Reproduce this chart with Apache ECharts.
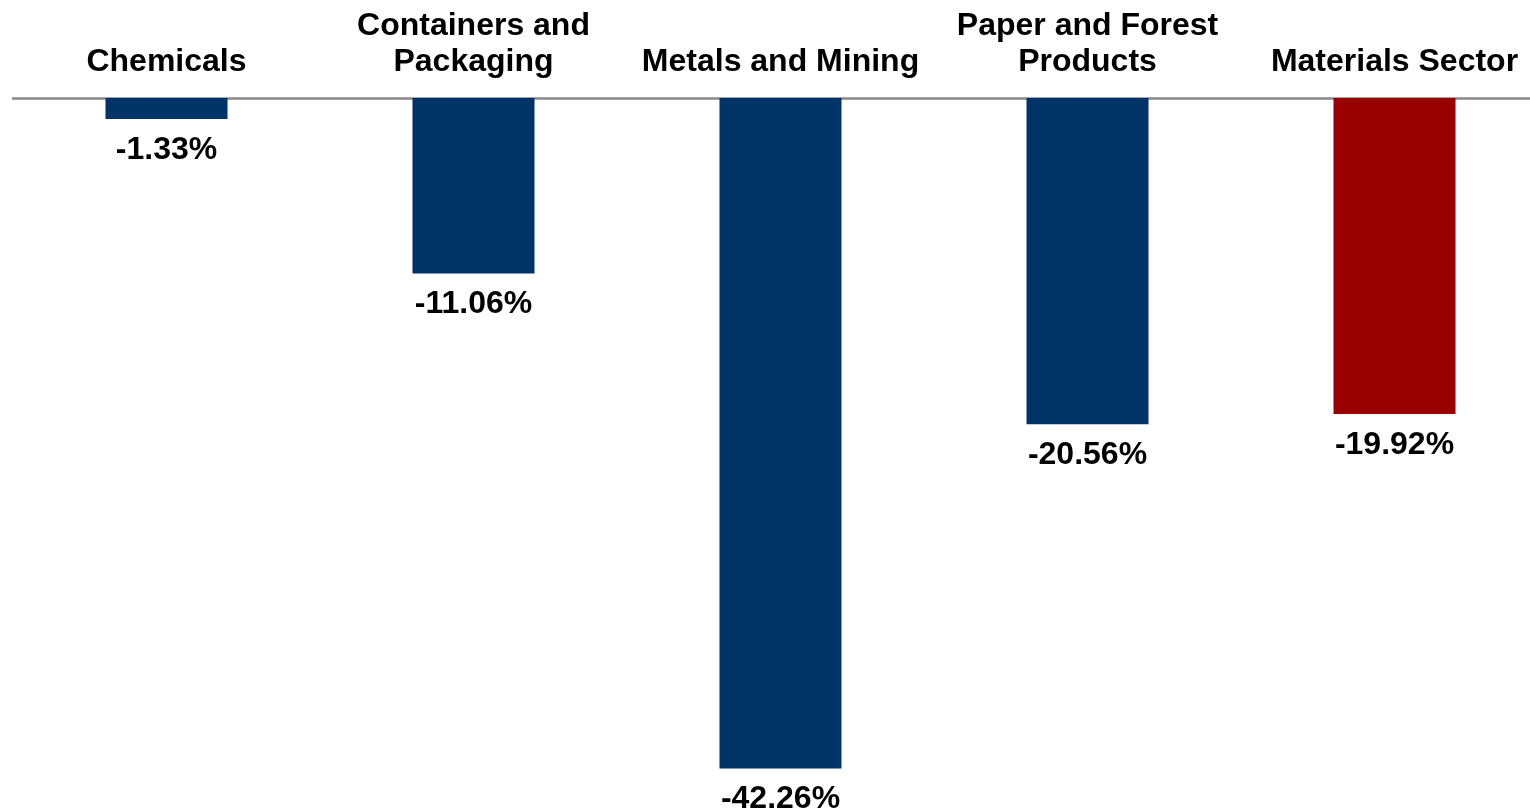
<!DOCTYPE html>
<html>
<head>
<meta charset="utf-8">
<style>
  html, body { margin: 0; padding: 0; background: #ffffff; overflow: hidden; }
  /* the drawing surface runs slightly past the right edge of the window */
  #chart { width: 1548px; height: 812px; }
</style>
<script src="https://cdn.jsdelivr.net/npm/echarts@6/dist/echarts.min.js"></script>
</head>
<body>
<div id="chart"></div>
<script>
// Materials sub-industry returns (%)
const categories = [
  'Chemicals',
  'Containers and\nPackaging',
  'Metals and Mining',
  'Paper and Forest\nProducts',
  'Materials Sector'
];
const returns = [-1.33, -11.06, -42.26, -20.56, -19.92];
const barColors = ['#003366', '#003366', '#003366', '#003366', '#990000'];

const chart = echarts.init(document.getElementById('chart'), null, { renderer: 'canvas' });

const FONT = '"Liberation Sans", Arial, sans-serif';

chart.setOption({
  backgroundColor: '#ffffff',
  animation: false,
  grid: { left: 13, right: 0, top: 98, bottom: 0, containLabel: false },
  xAxis: {
    type: 'category',
    position: 'top',
    data: categories,
    axisLine: { show: true, onZero: false, lineStyle: { color: '#888888', width: 2.5 } },
    axisTick: { show: false },
    axisLabel: {
      interval: 0,
      margin: 18,
      color: '#000000',
      fontFamily: FONT,
      fontWeight: 'bold',
      fontSize: 32,
      lineHeight: 36,
      align: 'center'
    },
    splitLine: { show: false }
  },
  yAxis: {
    type: 'value',
    min: -45,
    max: 0,
    show: false,
    splitLine: { show: false }
  },
  series: [{
    type: 'bar',
    barWidth: 122,
    data: returns.map((v, i) => ({ value: v, itemStyle: { color: barColors[i] } })),
    label: {
      show: true,
      position: 'bottom',
      distance: 15,
      color: '#000000',
      fontFamily: FONT,
      fontWeight: 'bold',
      fontSize: 32,
      formatter: p => p.value.toFixed(2) + '%'
    }
  }]
});
</script>
</body>
</html>
